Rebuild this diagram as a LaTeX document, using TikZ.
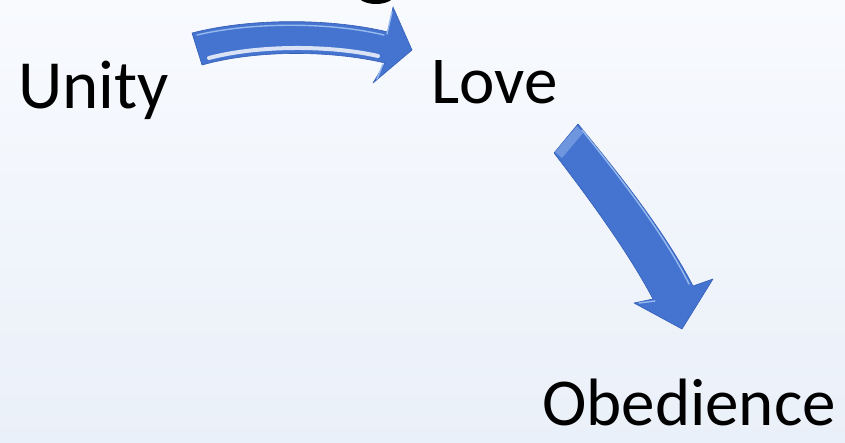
\documentclass[tikz,border=0pt]{standalone}
\usepackage{fontspec}
\setmainfont{Carlito}
\usepackage{xcolor}
\usepackage{tikz}
\usetikzlibrary{positioning}

\definecolor{arrowblue}{RGB}{68,116,208}
\definecolor{arrowedge}{RGB}{52,94,182}
\definecolor{arrowlight}{RGB}{150,185,238}
\definecolor{bgtop}{RGB}{248,250,254}
\definecolor{bgbottom}{RGB}{234,240,249}

\begin{document}
\begin{tikzpicture}[
  x=1pt, y=-1pt,
  word/.style={inner sep=0pt, anchor=base west},
  blockarrow/.style={fill=arrowblue, draw=arrowedge, line width=0.6pt, line join=round},
  shine/.style={draw=white, line width=4pt, opacity=0.8, line cap=round},
  gleam/.style={draw=arrowlight, line width=1.4pt, line cap=round},
]
% page and background
\useasboundingbox (0,0) rectangle (845,442);
\shade[top color=bgtop, bottom color=bgbottom] (0,0) rectangle (845,442);
% bottom of a cut-off title letter
\fill[black] (376,-6) ellipse [x radius=19, y radius=10];
% words
\node[word, font=\fontsize{69}{80}\selectfont] (unity) at (18,108) {Unity};
\node[word, font=\fontsize{67}{80}\selectfont] (love) at (431,103) {Love};
\node[word, font=\fontsize{67}{80}\selectfont] (obedience) at (542,425) {Obedience};
% arrow unity -> love
\draw[blockarrow] (192,33) .. controls (250,18) and (330,18) .. (388,32) -- (393,7) -- (412,50)
  -- (373,83) -- (385,63) .. controls (330,50) and (255,50) .. (202,65) -- cycle;
\draw[shine] (209,58) .. controls (258,45) and (330,45) .. (378,56);
\draw[gleam] (197,35) .. controls (252,22) and (330,22) .. (384,35);
\draw[gleam] (392,12) -- (387,34);
\draw[gleam] (383,64) -- (377,79);
% arrow love -> obedience
\draw[blockarrow] (578,124) .. controls (611,164) and (663,228) .. (693,286) -- (713,279)
  -- (682,329) -- (634,303) -- (653,299) .. controls (627,250) and (587,196) .. (554,153) -- cycle;
\fill[arrowlight, opacity=0.5] (555,152) -- (577,126) -- (583,133) -- (562,158) -- cycle;
\draw[gleam] (582,130) .. controls (614,170) and (662,230) .. (689,284);
\draw[gleam] (639,303) -- (655,301);
\end{tikzpicture}
\end{document}
